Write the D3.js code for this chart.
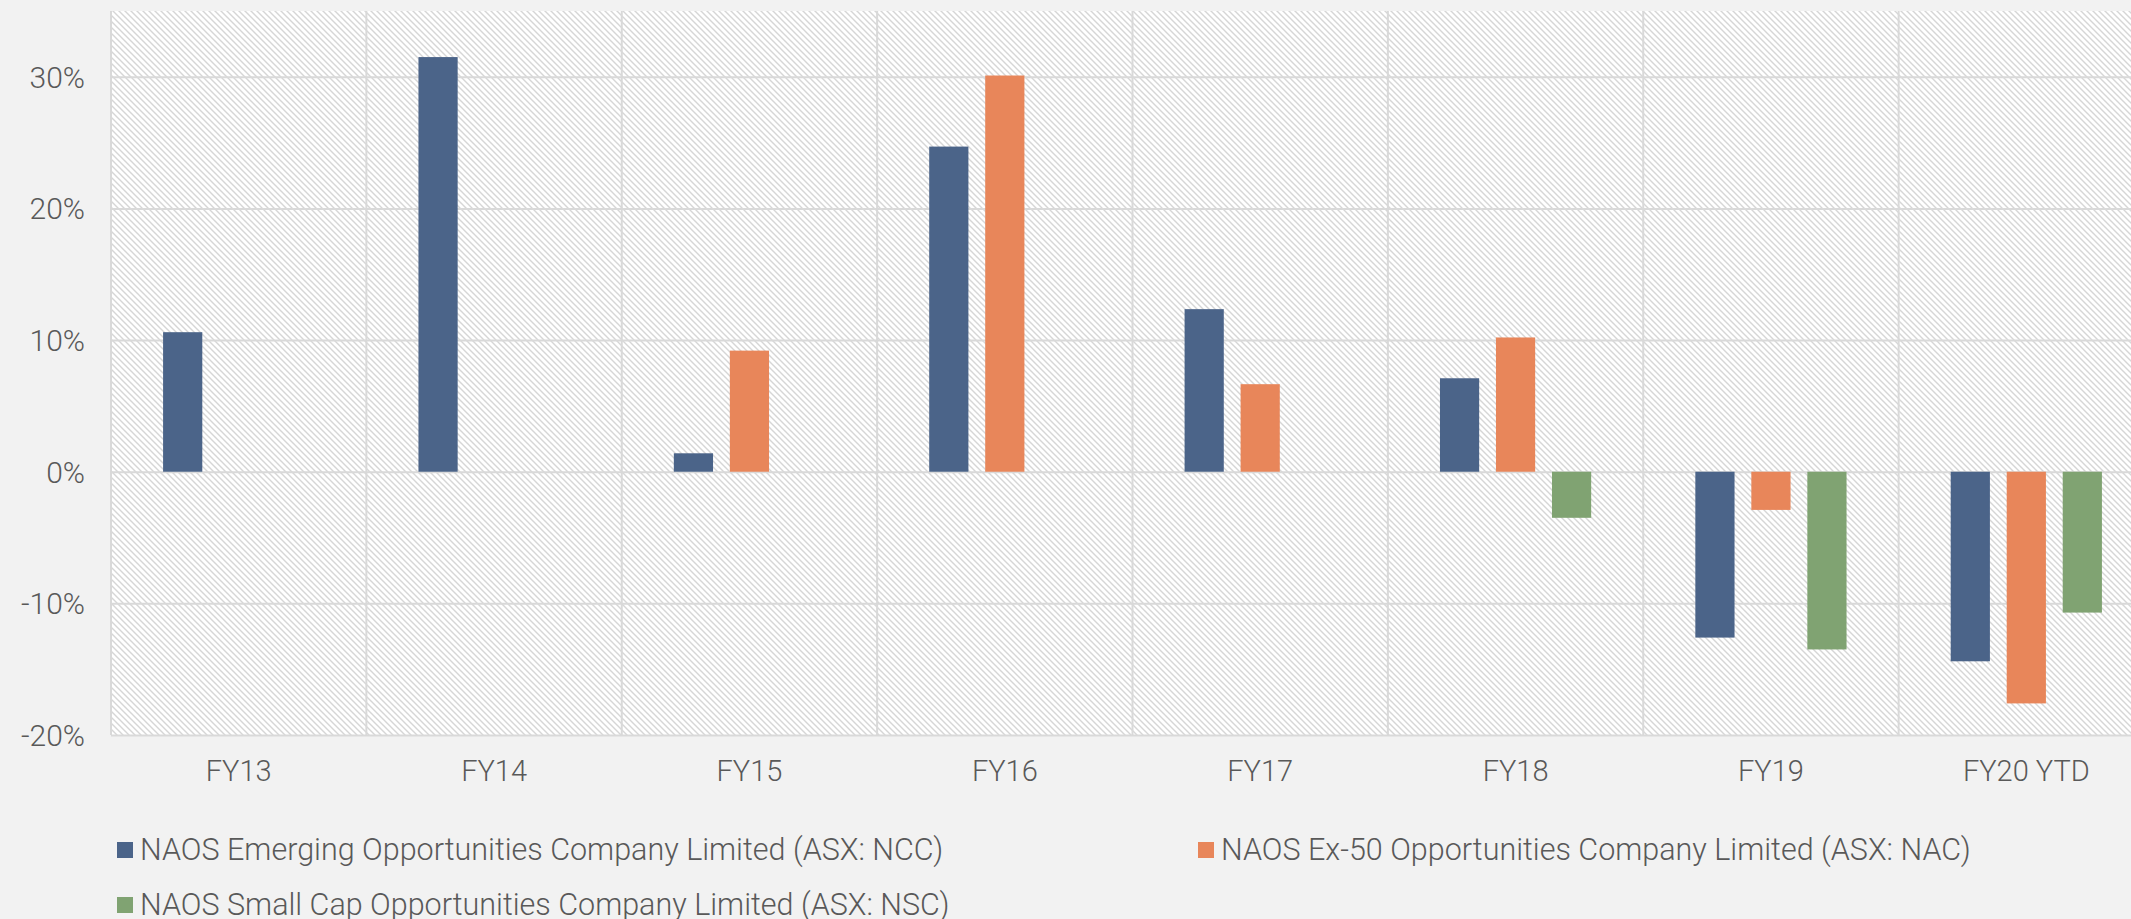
<!DOCTYPE html>
<html>
<head>
<meta charset="utf-8">
<script src="https://d3js.org/d3.v7.min.js"></script>
<style>
  body { margin: 0; background: #f2f2f2; }
  svg { display: block; }
  text { font-family: "Roboto", "Liberation Sans", sans-serif; font-weight: 300; fill: #595959; }
</style>
</head>
<body>
<svg id="chart"></svg>
<script>
// categories and series (returns in %)
var years = ["FY13", "FY14", "FY15", "FY16", "FY17", "FY18", "FY19", "FY20 YTD"];
var seriesNames = [
  "NAOS Emerging Opportunities Company Limited (ASX: NCC)",
  "NAOS Ex-50 Opportunities Company Limited (ASX: NAC)",
  "NAOS Small Cap Opportunities Company Limited (ASX: NSC)"
];
var nccValues = [10.6, 31.5, 1.4, 24.7, 12.35, 7.1, -12.6, -14.4];
var nacValues = [null, null, 9.2, 30.1, 6.65, 10.2, -2.9, -17.6];
var nscValues = [null, null, null, null, null, -3.5, -13.5, -10.7];
var yTicks = [-20, -10, 0, 10, 20, 30];
var seriesColors = ["#4b6489", "#e8865a", "#80a372"];

var screen = {width: 2131, height: 919};
// plot area: the chart runs a bit past the right edge of the picture
var plot = {left: 111, top: 11, right: 2154, bottom: 735};

var allSeries = [nccValues, nacValues, nscValues];

var svg = d3.select("#chart")
  .attr("width", screen.width)
  .attr("height", screen.height);

var xScale = d3.scaleBand()
  .domain(years)
  .range([plot.left, plot.right])
  .padding(0);

var innerScale = d3.scaleBand()
  .domain(d3.range(seriesNames.length))
  .range([0, xScale.bandwidth()])
  .paddingInner(0.3)
  .paddingOuter(0.93);

var yScale = d3.scaleLinear()
  .domain([-20, 35])
  .range([plot.bottom, plot.top]);

// hatched plot background (light downward diagonal)
var defs = svg.append("defs");
var pat = defs.append("pattern")
  .attr("id", "hatch")
  .attr("patternUnits", "userSpaceOnUse")
  .attr("width", 6)
  .attr("height", 6);
pat.append("rect").attr("width", 6).attr("height", 6).attr("fill", "#ffffff");
pat.append("path")
  .attr("d", "M-1,-1 L7,7 M-4,2 L4,10 M2,-4 L10,4")
  .attr("stroke", "#d6d6d6")
  .attr("stroke-width", 1.4);

svg.append("rect")
  .attr("x", plot.left)
  .attr("y", plot.top)
  .attr("width", plot.right - plot.left)
  .attr("height", plot.bottom - plot.top)
  .attr("fill", "url(#hatch)");

// horizontal gridlines
var yAxis = d3.axisLeft(yScale)
  .tickValues(yTicks)
  .tickSize(-(plot.right - plot.left))
  .tickFormat(function(d){ return d + "%"; });

var yG = svg.append("g")
  .attr("transform", "translate(" + plot.left + ",0)")
  .call(yAxis);
yG.select(".domain").remove();
yG.selectAll(".tick line").attr("stroke", "#d9d9d9").attr("stroke-width", 2);
yG.selectAll(".tick text")
  .attr("x", -26)
  .attr("dy", "0.35em")
  .style("font-size", "30px");

// vertical category separators
var xAxis = d3.axisBottom(xScale).tickSize(0).tickSizeOuter(0);
var xG = svg.append("g")
  .attr("transform", "translate(0," + plot.bottom + ")")
  .call(xAxis);
xG.select(".domain").remove();
xG.selectAll(".tick text")
  .attr("y", 46)
  .attr("dy", 0)
  .style("font-size", "29px");

svg.append("g").selectAll("line")
  .data(d3.range(years.length + 1))
  .enter()
  .append("line")
  .attr("x1", function(i){ return plot.left + i * xScale.step(); })
  .attr("x2", function(i){ return plot.left + i * xScale.step(); })
  .attr("y1", plot.top)
  .attr("y2", plot.bottom)
  .attr("stroke", "#d9d9d9")
  .attr("stroke-width", 2);

// bars
allSeries.forEach(function(values, s){
  svg.append("g").selectAll("rect")
    .data(values.map(function(v, i){ return {year: years[i], value: v}; })
                .filter(function(d){ return d.value !== null; }))
    .enter()
    .append("rect")
    .attr("x", function(d){ return xScale(d.year) + innerScale(s); })
    .attr("width", innerScale.bandwidth())
    .attr("y", function(d){ return yScale(Math.max(0, d.value)); })
    .attr("height", function(d){ return Math.abs(yScale(d.value) - yScale(0)); })
    .attr("fill", seriesColors[s]);
});

// legend
var legendPos = [{x: 117, y: 850}, {x: 1198, y: 850}, {x: 117, y: 905}];
var legend = svg.append("g").selectAll("g")
  .data(seriesNames)
  .enter()
  .append("g")
  .attr("transform", function(d, i){ return "translate(" + legendPos[i].x + "," + legendPos[i].y + ")"; });

legend.append("rect")
  .attr("x", 0).attr("y", -8)
  .attr("width", 16).attr("height", 16)
  .attr("fill", function(d, i){ return seriesColors[i]; });

legend.append("text")
  .attr("x", 23)
  .attr("y", 10)
  .style("font-size", "30.5px")
  .text(function(d){ return d; });
</script>
</body>
</html>
